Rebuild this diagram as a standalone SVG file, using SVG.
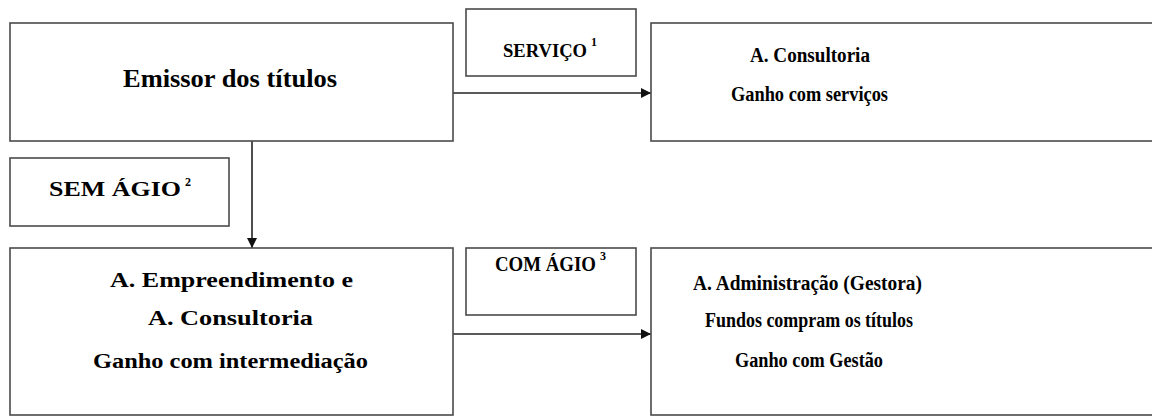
<svg xmlns="http://www.w3.org/2000/svg" width="1152" height="416" viewBox="0 0 1152 416">
<style>
.box{fill:#fff;stroke:#4a4a4a;stroke-width:1.6}
.lbl{fill:#fff;stroke:#4a4a4a;stroke-width:1.6}
.t{font-family:"Liberation Serif","Times New Roman",serif;font-weight:bold;fill:#000;font-size:20px}
.big{font-size:25px}
.sup{font-size:12px}
.edge{stroke:#222;stroke-width:1.6;fill:none}
</style>
<defs>
<marker id="arr" viewBox="0 0 10 10" refX="10" refY="5" markerWidth="10" markerHeight="10" markerUnits="userSpaceOnUse" orient="auto">
<path d="M0,0 L10,5 L0,10 Z" fill="#111"/>
</marker>
</defs>
<rect width="1152" height="416" fill="#fff"/>
<g id="connectors">
<line class="edge" x1="453" y1="93" x2="651" y2="93" marker-end="url(#arr)"/>
<line class="edge" x1="252" y1="141" x2="252" y2="248" marker-end="url(#arr)"/>
<line class="edge" x1="453" y1="334" x2="651" y2="334" marker-end="url(#arr)"/>
</g>
<g id="emissor">
<rect class="box" x="10" y="23" width="443" height="118"/>
<text class="t big" x="123" y="87" textLength="214" lengthAdjust="spacingAndGlyphs">Emissor dos títulos</text>
</g>
<g id="consultoria">
<rect class="box" x="651" y="23" width="520" height="118"/>
<text class="t" x="750" y="62" textLength="120" lengthAdjust="spacingAndGlyphs">A. Consultoria</text>
<text class="t" x="731" y="101" textLength="157" lengthAdjust="spacingAndGlyphs">Ganho com serviços</text>
</g>
<g id="servico">
<rect class="lbl" x="466" y="9" width="170" height="67"/>
<text class="t" x="503" y="57" style="font-size:18px" textLength="84" lengthAdjust="spacingAndGlyphs">SERVIÇO</text>
<text class="t sup" x="591" y="46">1</text>
</g>
<g id="sem-agio">
<rect class="lbl" x="10" y="158" width="219" height="68"/>
<text class="t" x="49" y="196" textLength="132" lengthAdjust="spacingAndGlyphs">SEM ÁGIO</text>
<text class="t sup" x="185" y="186">2</text>
</g>
<g id="empreendimento">
<rect class="box" x="10" y="248" width="443" height="167"/>
<text class="t" x="110" y="287" textLength="243" lengthAdjust="spacingAndGlyphs">A. Empreendimento e</text>
<text class="t" x="148" y="325" textLength="165" lengthAdjust="spacingAndGlyphs">A. Consultoria</text>
<text class="t" x="93" y="368" textLength="275" lengthAdjust="spacingAndGlyphs">Ganho com intermediação</text>
</g>
<g id="com-agio">
<rect class="lbl" x="466" y="248" width="170" height="67"/>
<text class="t" x="495" y="271" textLength="101" lengthAdjust="spacingAndGlyphs">COM ÁGIO</text>
<text class="t sup" x="600" y="260">3</text>
</g>
<g id="administracao">
<rect class="box" x="651" y="248" width="520" height="167"/>
<text class="t" x="693" y="290" textLength="229" lengthAdjust="spacingAndGlyphs">A. Administração (Gestora)</text>
<text class="t" x="705" y="327" textLength="208" lengthAdjust="spacingAndGlyphs">Fundos compram os títulos</text>
<text class="t" x="735" y="367" textLength="148" lengthAdjust="spacingAndGlyphs">Ganho com Gestão</text>
</g>
</svg>
